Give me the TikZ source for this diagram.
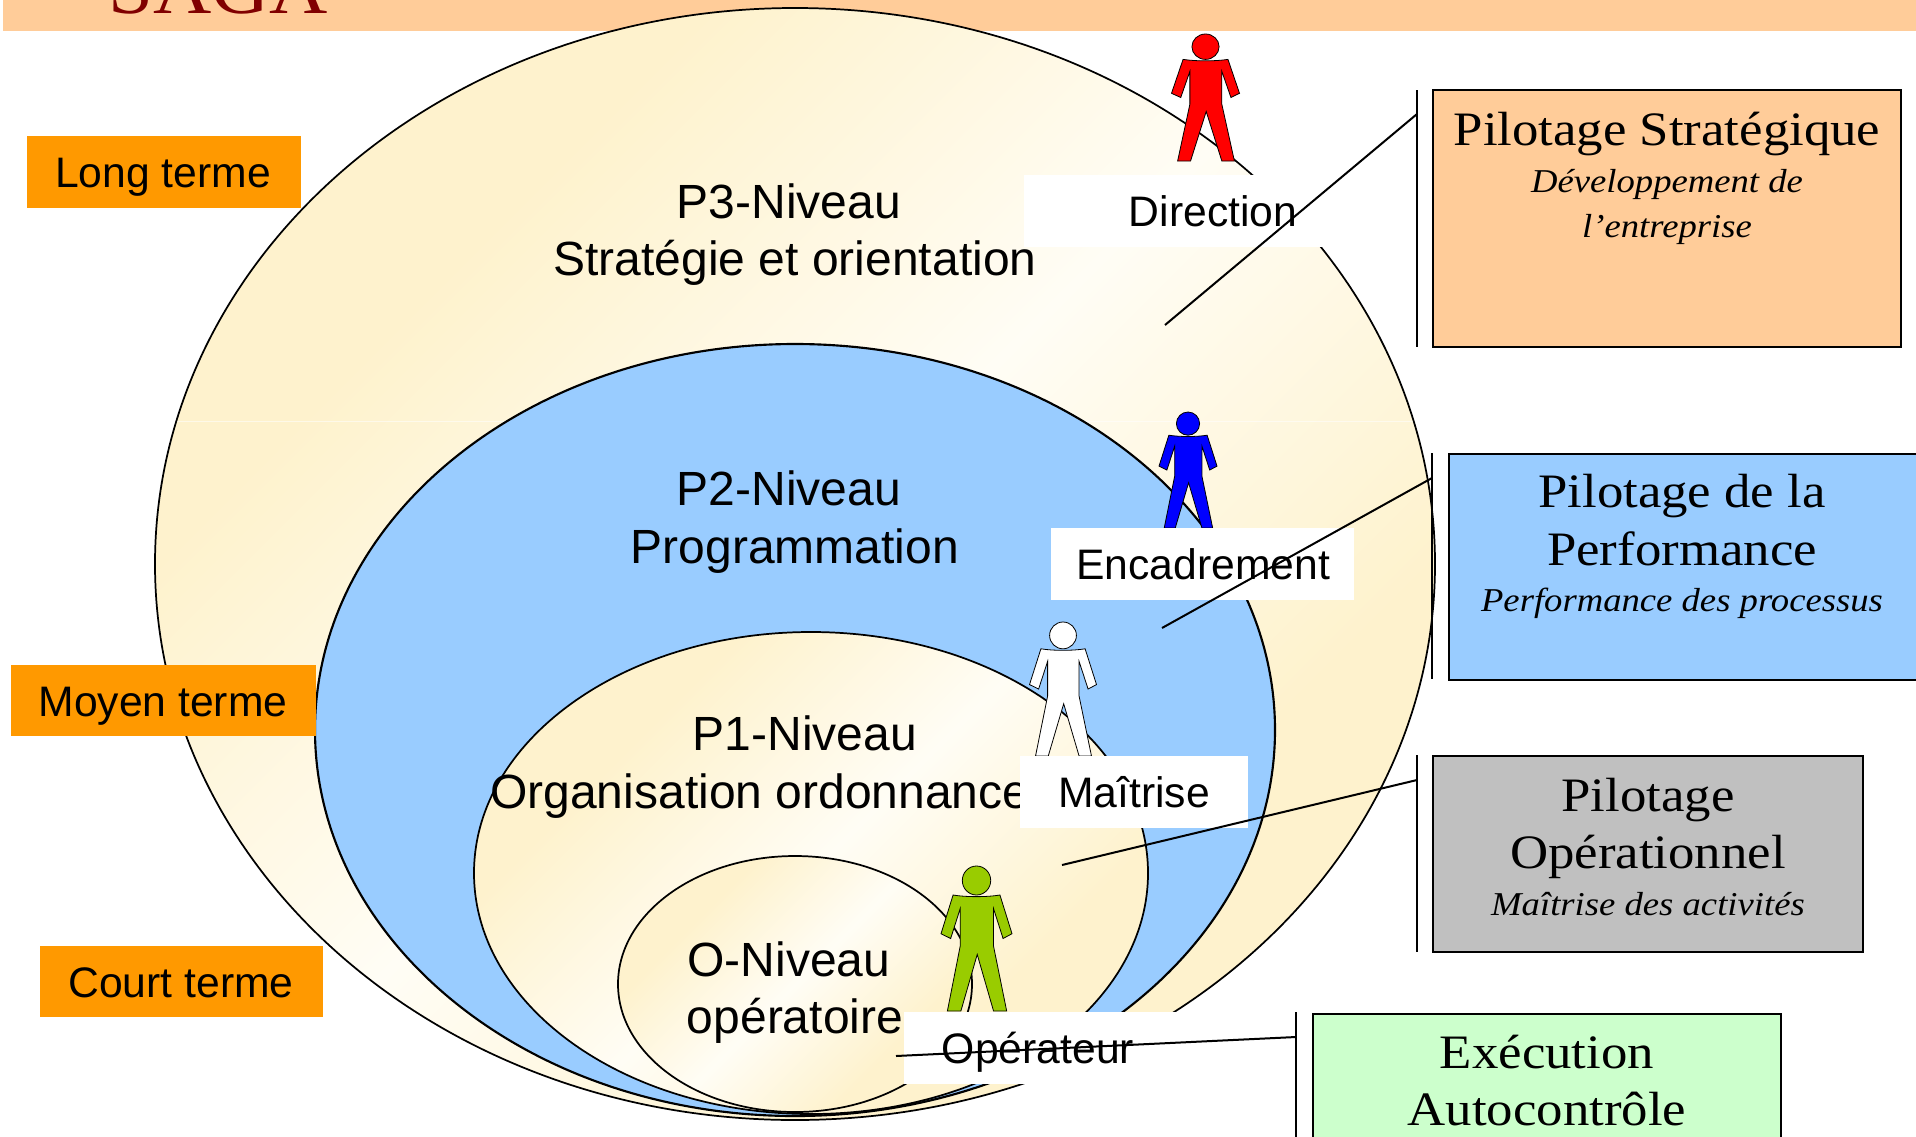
\documentclass[tikz,border=0pt]{standalone}
\usepackage{fontspec}
\setmainfont{Liberation Sans}
\newfontfamily\palat[FakeStretch=1.1]{Liberation Serif}
\definecolor{creamdark}{HTML}{FEF2CD}
\definecolor{creamlight}{HTML}{FFFDF5}
\definecolor{bandpeach}{HTML}{FFCC99}
\definecolor{termorange}{HTML}{FF9900}
\definecolor{paleblue}{HTML}{99CCFF}
\definecolor{midgrey}{HTML}{C0C0C0}
\definecolor{palegreen}{HTML}{CCFFCC}
\definecolor{sagared}{HTML}{800000}
\definecolor{opgreen}{HTML}{99CC00}
\pgfdeclarehorizontalshading{creamband}{100bp}{color(0bp)=(creamdark); color(31bp)=(creamdark); color(50bp)=(creamlight); color(69bp)=(creamdark); color(100bp)=(creamdark)}
\newcommand{\personfig}[5]{%
  \begin{scope}[shift={(#1,#2)},xscale=#3,yscale=#4]
    \draw[personline,fill=#5] (-.33,.2) .. controls (-.15,.215) and (.15,.215) .. (.33,.2)
      -- (.5,.467) -- (.374,.5) -- (.24,.294) -- (.24,.553) -- (.425,1) -- (.24,1)
      -- (.01,.61) -- (-.22,1) -- (-.41,1) -- (-.23,.553) -- (-.23,.294) -- (-.364,.5)
      -- (-.5,.467) -- cycle;
    \draw[personline,fill=#5] (0,.1) ellipse [x radius=.2,y radius=.1];
  \end{scope}}
\tikzset{
  personline/.style={draw=black,line width=.6pt},
  creamdisc/.style={draw=black,line width=1.3pt,shade,shading=creamband,shading angle=-45},
  blackline/.style={draw=black,line width=1.5pt},
  termbox/.style={fill=termorange},
  whitebox/.style={fill=white},
  pilotbox/.style={draw=black,line width=1.5pt},
  sanslabel/.style={anchor=base,inner sep=0pt,font=\fontsize{32}{38}\selectfont},
  levellabel/.style={anchor=base,inner sep=0pt,font=\fontsize{36}{43}\selectfont},
  pilottitle/.style={anchor=base,inner sep=0pt,font=\palat\fontsize{36}{43}\selectfont},
  pilotsub/.style={anchor=base,inner sep=0pt,font=\palat\itshape\fontsize{25}{31}\selectfont}
}
\begin{document}
\begin{tikzpicture}[x=.75pt,y=-.75pt]
\useasboundingbox (0,0) rectangle (1916,1136);
\clip (0,0) rectangle (1916,1136);
\fill[white] (0,0) rectangle (1916,1136);
% top band
\fill[bandpeach] (3,-5) rectangle (1920,31);
\node[anchor=base,inner sep=0pt,text=sagared,font=\palat\fontsize{55}{60}\selectfont] (saga) at (218,13) {SAGA};
% nested levels
\path[creamdisc] (795,564) ellipse [x radius=640,y radius=556];
\begin{scope}
  \clip (795,564) ellipse [x radius=639,y radius=555];
  \draw[white,opacity=.55,line width=.5pt] (150,421) -- (1440,421);
\end{scope}
\path[draw=black,line width=1.6pt,fill=paleblue] (795,730) ellipse [x radius=480,y radius=386];
\path[creamdisc] (811,873) ellipse [x radius=337,y radius=241];
\path[creamdisc] (795,984) ellipse [x radius=177,y radius=128];
% level labels
\node[levellabel] (p3a) at (789,218) {P3-Niveau};
\node[levellabel] (p3b) at (795,275) {Stratégie et orientation};
\node[levellabel] (p2a) at (789,505) {P2-Niveau};
\node[levellabel] (p2b) at (795,563) {Programmation};
\node[levellabel] (p1a) at (805,750) {P1-Niveau};
\node[levellabel,anchor=base west] (p1b) at (490,808) {Organisation ordonnance};
\node[levellabel] (o0a) at (789,976) {O-Niveau};
\node[levellabel] (o0b) at (795,1033) {opératoire};
% people
\personfig{1205.5}{34}{68}{127}{red}
\personfig{1188}{412}{58}{116}{blue}
\personfig{1063}{622}{67}{134}{white}
\personfig{976.5}{866}{71}{145}{opgreen}
% white label backgrounds
\fill[whitebox] (1024,175) rectangle (1322,247);
\fill[whitebox] (1051,528) rectangle (1354,600);
\fill[whitebox] (1020,755.5) rectangle (1248,827.5);
\fill[whitebox] (904,1011.5) rectangle (1200,1083.5);
\node[sanslabel] (dir) at (1213,226) {Direction};
\node[sanslabel] (enc) at (1203,579) {Encadrement};
\node[sanslabel] (mai) at (1134,807) {Maîtrise};
\node[sanslabel] (ope) at (1038,1063) {Opérateur};
% term boxes
\fill[termbox] (27,136) rectangle (301,208);
\fill[termbox] (11,665) rectangle (316,736);
\fill[termbox] (40,946) rectangle (323,1017);
\node[sanslabel] (lt) at (163,187) {Long terme};
\node[sanslabel] (mt) at (163,716) {Moyen terme};
\node[sanslabel] (ct) at (181,997) {Court terme};
% pilot boxes
\draw[pilotbox,fill=bandpeach] (1433,90) rectangle (1901,347);
\draw[pilotbox,fill=paleblue] (1449,454) rectangle (1925,680);
\draw[pilotbox,fill=midgrey] (1433,756) rectangle (1863,952);
\draw[pilotbox,fill=palegreen] (1313,1014) rectangle (1781,1150);
\node[pilottitle] (b1a) at (1667,145) {Pilotage Stratégique};
\node[pilotsub] (b1b) at (1667,192) {Développement de};
\node[pilotsub] (b1c) at (1667,237) {l’entreprise};
\node[pilottitle] (b2a) at (1682,507) {Pilotage de la};
\node[pilottitle] (b2b) at (1682,565) {Performance};
\node[pilotsub] (b2c) at (1682,611) {Performance des processus};
\node[pilottitle] (b3a) at (1648,811) {Pilotage};
\node[pilottitle] (b3b) at (1648,868) {Opérationnel};
\node[pilotsub] (b3c) at (1648,915) {Maîtrise des activités};
\node[pilottitle] (b4a) at (1547,1068) {Exécution};
\node[pilottitle] (b4b) at (1547,1125) {Autocontrôle};
% brackets and connectors
\coordinate (v1t) at (1417,90);   \coordinate (v1b) at (1417,347);
\coordinate (v2t) at (1432,453);  \coordinate (v2b) at (1432,679);
\coordinate (v3t) at (1417,755);  \coordinate (v3b) at (1417,952);
\coordinate (v4t) at (1296,1012); \coordinate (v4b) at (1296,1140);
\coordinate (c1a) at (1417,114);  \coordinate (c1b) at (1165,325);
\coordinate (c2a) at (1432,478);  \coordinate (c2b) at (1162,628);
\coordinate (c3a) at (1417,780);  \coordinate (c3b) at (1062,865);
\coordinate (c4a) at (1296,1037); \coordinate (c4b) at (896,1056);
\foreach \a/\b in {v1t/v1b,v2t/v2b,v3t/v3b,v4t/v4b,c1a/c1b,c2a/c2b,c3a/c3b,c4a/c4b}
  \draw[blackline] (\a) -- (\b);
\end{tikzpicture}
\end{document}
